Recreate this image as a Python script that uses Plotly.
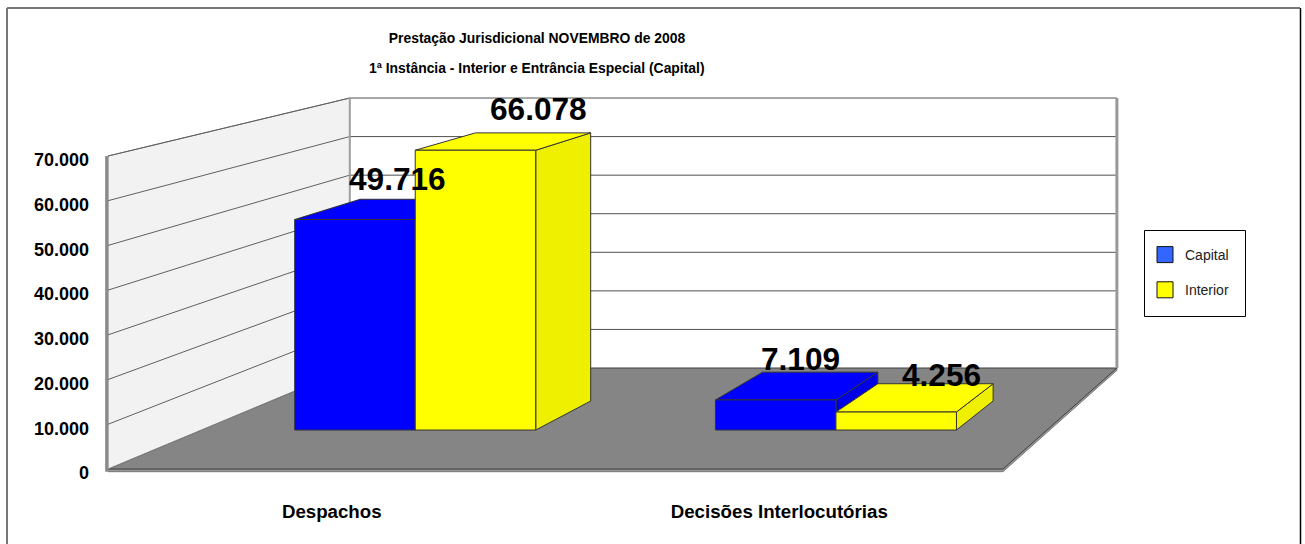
import plotly.graph_objects as go

# ---- data ----
categories = ["Despachos", "Decisões Interlocutórias"]
capital = [49716, 7109]
interior = [66078, 4256]
value_ticks = [0, 10000, 20000, 30000, 40000, 50000, 60000, 70000]
value_tick_labels = ["0", "10.000", "20.000", "30.000", "40.000", "50.000", "60.000", "70.000"]
title_lines = ["Prestação Jurisdicional NOVEMBRO de 2008",
               "1ª Instância - Interior e Entrância Especial (Capital)"]
capital_labels = ["49.716", "7.109"]
interior_labels = ["66.078", "4.256"]

# ---- 3D look: perspective projection of (category position, value, depth) ----
W, H = 1305, 544
PX_X = 447.5            # pixels per category on the front plane
PX_Y = 313 / 70000      # pixels per value unit on the front plane
X0, Y0 = 108, 469       # pixel position of the front-left floor corner
ML, PB = 100, 65        # plot-area margins
VX = (1800 - X0) / PX_X
VY = (Y0 + 266) / PX_Y
S_BACK, S_BAR_FRONT, S_BAR_BACK = 0.8626, 0.947, 0.9075
VMAX = value_ticks[-1]


def paper_x(px):
    return (px - ML) / (W - ML)


def paper_y(py):
    return 1 - py / (H - PB)


def proj(c, v, s):
    sx = 1 - 1.04 * (1 - s)
    return VX + (c - VX) * sx, VY + (v - VY) * s


fig = go.Figure()


def poly(points, fill, line="#333333", lw=1):
    xs = [p[0] for p in points]
    ys = [p[1] for p in points]
    fig.add_trace(go.Scatter(
        x=xs, y=ys, mode="lines", fill="toself" if fill else None, fillcolor=fill,
        line=dict(color=line, width=lw), hoverinfo="skip", showlegend=False, cliponaxis=False))


def seg(a, b, color, lw):
    poly([a, b], None, color, lw)


N = len(categories)
lip = -600
# floor lip, floor
poly([proj(0, lip, 1), proj(N, lip, 1), proj(N, lip, S_BACK), proj(N, 0, S_BACK), proj(N, 0, 1), proj(0, 0, 1)],
     "#999999", "#777777", 1)
poly([proj(0, 0, 1), proj(N, 0, 1), proj(N, 0, S_BACK), proj(0, 0, S_BACK), proj(0, 0, 1)], "#858585", "#404040", 1)
# left wall, back wall
poly([proj(0, 0, 1), proj(0, 0, S_BACK), proj(0, VMAX, S_BACK), proj(0, VMAX, 1), proj(0, 0, 1)], "#F2F2F2", "#808080", 1)
for v in value_ticks[1:]:
    seg(proj(0, v, 1), proj(0, v, S_BACK), "#606060", 1)
    seg(proj(0, v, S_BACK), proj(N, v, S_BACK), "#505050", 1)
seg(proj(-0.003, lip, 1), proj(-0.003, VMAX, 1), "#8A8A8A", 3)
seg(proj(0, 0, S_BACK), proj(0, VMAX, S_BACK), "#A0A0A0", 2)
seg(proj(N, 0, S_BACK), proj(N, VMAX, S_BACK), "#999999", 3)

# bars
bar_centers = [0.506, 1.501]
bar_w = 0.285


def box(c0, v, front, side):
    c1 = c0 + bar_w
    a, b = S_BAR_FRONT, S_BAR_BACK
    poly([proj(c1, 0, a), proj(c1, 0, b), proj(c1, v, b), proj(c1, v, a), proj(c1, 0, a)], side)
    poly([proj(c0, v, a), proj(c0, v, b), proj(c1, v, b), proj(c1, v, a), proj(c0, v, a)], front)
    poly([proj(c0, 0, a), proj(c1, 0, a), proj(c1, v, a), proj(c0, v, a), proj(c0, 0, a)], front)


for i in range(N):
    box(bar_centers[i] - bar_w, capital[i], "#0000FF", "#0000E6")
    box(bar_centers[i], interior[i], "#FFFF00", "#EFEF00")

# data labels
label_font = dict(family="Liberation Sans", size=31.6, color="#000000", weight=700)
cap_shift = [(43, -41), (25, -41)]
int_shift = [(63, -41), (45, -37)]
for i in range(N):
    for c0, v, txt, sh in ((bar_centers[i] - bar_w / 2, capital[i], capital_labels[i], cap_shift[i]),
                           (bar_centers[i] + bar_w / 2, interior[i], interior_labels[i], int_shift[i])):
        x, y = proj(c0, v, S_BAR_FRONT)
        fig.add_annotation(x=x, y=y, text=txt, showarrow=False, xshift=sh[0], yshift=-sh[1],
                           font=label_font, xanchor="center", yanchor="middle")

# second title line
title_font = dict(family="Liberation Sans", size=13.9, color="#000000", weight=700)
fig.add_annotation(x=paper_x(537), y=paper_y(68.5), xref="paper", yref="paper", text=title_lines[1],
                   showarrow=False, font=title_font, xanchor="center", yanchor="middle")

# legend entries
for name, col in (("Capital", "#3366FF"), ("Interior", "#FFFF00")):
    fig.add_trace(go.Scatter(x=[None], y=[None], mode="markers", name=name, legendgroup=name,
                             marker=dict(symbol="square", size=16, color=col, line=dict(color="#111111", width=1))))

frame_grey = "#777777"
fig.update_layout(
    width=W, height=H,
    margin=dict(l=ML, r=0, t=0, b=PB),
    paper_bgcolor="white", plot_bgcolor="white",
    font=dict(family="Liberation Sans", color="#000000"),
    title=dict(text=title_lines[0],
               x=537 / W, xanchor="center", xref="container",
               y=1 - 33.5 / H, yanchor="top", yref="container",
               font=title_font),
    xaxis=dict(range=[-(X0 - ML) / PX_X, (W - X0) / PX_X], tickmode="array", tickvals=[0.5, 1.5], ticktext=categories,
               showgrid=False, zeroline=False, showline=False, ticks="", ticklabelstandoff=19,
               tickfont=dict(family="Liberation Sans", size=18.7, color="#000000", weight=700), fixedrange=True),
    yaxis=dict(range=[-(H - PB - Y0) / PX_Y, Y0 / PX_Y], tickmode="array",
               tickvals=[v - 4 / PX_Y for v in value_ticks], ticktext=value_tick_labels,
               showgrid=False, zeroline=False, showline=False, ticks="", ticklabelstandoff=10,
               tickfont=dict(family="Liberation Sans", size=18, color="#000000", weight=700), fixedrange=True),
    legend=dict(x=paper_x(1145), y=paper_y(239), xanchor="left", yanchor="top",
                borderwidth=0, bgcolor="rgba(0,0,0,0)", tracegroupgap=14,
                font=dict(family="Liberation Sans", size=14, color="#222222")),
    shapes=[
        dict(type="rect", xref="paper", yref="paper",
             x0=paper_x(1144.5), x1=paper_x(1245.5), y0=paper_y(316.5), y1=paper_y(230.5),
             line=dict(color="#000000", width=1), layer="below"),
        dict(type="line", xref="paper", yref="paper", x0=paper_x(7), x1=paper_x(7), y0=paper_y(8), y1=paper_y(H),
             line=dict(color=frame_grey, width=2), layer="below"),
        dict(type="line", xref="paper", yref="paper", x0=paper_x(7), x1=paper_x(1300), y0=paper_y(8), y1=paper_y(8),
             line=dict(color=frame_grey, width=2), layer="below"),
        dict(type="line", xref="paper", yref="paper", x0=paper_x(1300.5), x1=paper_x(1300.5), y0=paper_y(8), y1=paper_y(H),
             line=dict(color="#000000", width=1.5), layer="below"),
    ],
)

fig.write_html("out.html", config={"displayModeBar": False},
               post_script="document.body.style.margin='0';document.body.style.overflow='hidden';")
